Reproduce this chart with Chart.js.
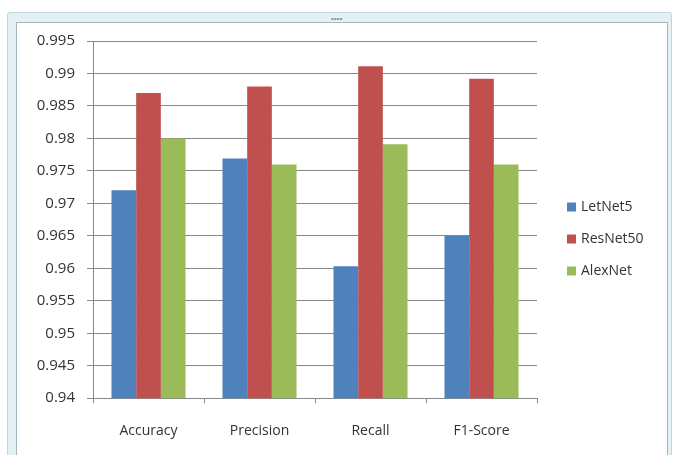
<!DOCTYPE html>
<html>
<head>
<meta charset="utf-8">
<script src="https://cdn.jsdelivr.net/npm/chart.js@4/dist/chart.umd.min.js"></script>
<style>
  html, body { margin: 0; padding: 0; background: #ffffff; }
  #wrap { position: relative; width: 673px; height: 455px; overflow: hidden; }
  #outer { position: absolute; left: 7px; top: 12px; width: 665px; height: 450px;
           background: #e3f0f4; border: 1px solid #c2d7de; box-sizing: border-box; border-radius: 3px; }
  #inner { position: absolute; left: 16px; top: 22px; width: 652px; height: 440px;
           background: #ffffff; border-left: 1px solid #a3b7be; border-top: 1px solid #a3b7be; border-right: 1px solid #a3b7be; box-sizing: border-box; }
  #dots { position: absolute; left: 331px; top: 14px; font: 8px sans-serif; color: #7d8d93; }
  canvas { position: absolute; left: 0; top: 0; }
</style>
</head>
<body>
<div id="wrap">
  <div id="outer"></div>
  <div id="inner"></div>
  <div id="dots">••••</div>
  <canvas id="c" width="673" height="455"></canvas>
</div>
<script>
const categories = ["Accuracy", "Precision", "Recall", "F1-Score"];
const seriesNames = ["LetNet5", "ResNet50", "AlexNet"];
const letNet5 = [0.972, 0.9769, 0.9603, 0.965];
const resNet50 = [0.987, 0.988, 0.9911, 0.9892];
const alexNet = [0.980, 0.976, 0.9791, 0.976];
const seriesColors = ["#4F81BD", "#C0504D", "#9BBB59"];
const yMin = 0.94, yMax = 0.995, yStep = 0.005;

const FONT = "'Open Sans', 'Liberation Sans', sans-serif";

const legendPlugin = {
  id: 'customLegend',
  afterDraw(chart) {
    const ctx = chart.ctx;
    const ys = [207, 239, 271];
    ctx.save();
    ctx.font = "14px " + FONT;
    ctx.textBaseline = 'middle';
    chart.data.datasets.forEach((ds, i) => {
      ctx.fillStyle = ds.backgroundColor;
      ctx.fillRect(567, ys[i] - 4.5, 9, 9);
      ctx.fillStyle = '#333333';
      ctx.fillText(ds.label, 581, ys[i]);
    });
    ctx.restore();
  }
};

new Chart(document.getElementById('c'), {
  type: 'bar',
  data: {
    labels: categories,
    datasets: [
      { label: seriesNames[0], data: letNet5, backgroundColor: seriesColors[0] },
      { label: seriesNames[1], data: resNet50, backgroundColor: seriesColors[1] },
      { label: seriesNames[2], data: alexNet, backgroundColor: seriesColors[2] }
    ]
  },
  options: {
    responsive: false,
    animation: false,
    devicePixelRatio: 1,
    layout: { padding: { left: 0, right: 136, top: 41, bottom: -3 } },
    plugins: { legend: { display: false }, tooltip: { enabled: false } },
    datasets: { bar: { categoryPercentage: 0.667, barPercentage: 1.0 } },
    scales: {
      x: {
        grid: { offset: true, drawOnChartArea: false, drawTicks: true, tickLength: 5, color: '#888888' },
        border: { display: true, color: '#888888', width: 1 },
        ticks: { color: '#333333', font: { family: FONT, size: 14 }, padding: 19 }
      },
      y: {
        min: yMin, max: yMax,
        grid: { color: '#888888', lineWidth: 1, tickLength: 6 },
        border: { display: true, color: '#888888', width: 1 },
        ticks: {
          stepSize: yStep,
          color: '#333333',
          font: { family: FONT, size: 15 },
          padding: 12,
          callback: v => Number(v.toFixed(3)).toString()
        },
        afterFit(scale) { scale.width = 93; }
      }
    }
  },
  plugins: [legendPlugin]
});
</script>
</body>
</html>
